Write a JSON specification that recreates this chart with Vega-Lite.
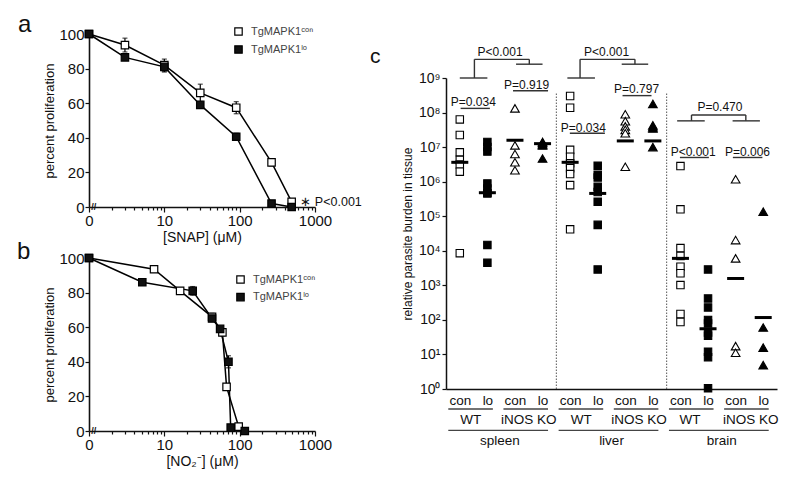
{
  "$schema": "https://vega.github.io/schema/vega-lite/v6.json",
  "padding": {"left": 17, "top": 13, "right": 5, "bottom": 5},
  "background": "white",
  "config": {
    "view": {"stroke": null},
    "font": "Liberation Sans, Arial, Helvetica, sans-serif",
    "axis": {"grid": false, "domainColor": "#111", "domainWidth": 1.6, "tickColor": "#111", "tickWidth": 1.2, "labelColor": "#111", "titleColor": "#111", "titleFontWeight": "normal", "labelFont": "Liberation Sans, Arial, sans-serif", "titleFont": "Liberation Sans, Arial, sans-serif"},
    "title": {"fontWeight": "normal", "color": "#111", "font": "Liberation Sans, Arial, sans-serif"},
    "text": {"color": "#111"}
  },
  "datasets": {
    "snap": [
      {"c": 1, "p": 100, "e": 0, "s": "TgMAPK1ᶜᵒⁿ"},
      {"c": 3, "p": 93.6, "e": 4, "s": "TgMAPK1ᶜᵒⁿ"},
      {"c": 10, "p": 82, "e": 3.5, "s": "TgMAPK1ᶜᵒⁿ"},
      {"c": 30, "p": 66, "e": 5, "s": "TgMAPK1ᶜᵒⁿ"},
      {"c": 90, "p": 57.4, "e": 3.5, "s": "TgMAPK1ᶜᵒⁿ"},
      {"c": 265, "p": 25.8, "e": 2, "s": "TgMAPK1ᶜᵒⁿ"},
      {"c": 490, "p": 3, "e": 0, "s": "TgMAPK1ᶜᵒⁿ"},
      {"c": 1, "p": 100, "e": 0, "s": "TgMAPK1ˡᵒ"},
      {"c": 3, "p": 86.5, "e": 0, "s": "TgMAPK1ˡᵒ"},
      {"c": 10, "p": 81, "e": 3, "s": "TgMAPK1ˡᵒ"},
      {"c": 30, "p": 59, "e": 1.5, "s": "TgMAPK1ˡᵒ"},
      {"c": 90, "p": 40.6, "e": 2, "s": "TgMAPK1ˡᵒ"},
      {"c": 265, "p": 2, "e": 0, "s": "TgMAPK1ˡᵒ"},
      {"c": 490, "p": 0, "e": 0, "s": "TgMAPK1ˡᵒ"}
    ],
    "no2": [
      {"c": 1, "p": 100, "e": 0, "s": "TgMAPK1ᶜᵒⁿ"},
      {"c": 7.3, "p": 93.5, "e": 0, "s": "TgMAPK1ᶜᵒⁿ"},
      {"c": 16.2, "p": 81, "e": 0, "s": "TgMAPK1ᶜᵒⁿ"},
      {"c": 43, "p": 66, "e": 2, "s": "TgMAPK1ᶜᵒⁿ"},
      {"c": 59, "p": 57, "e": 2, "s": "TgMAPK1ᶜᵒⁿ"},
      {"c": 67, "p": 25.5, "e": 0, "s": "TgMAPK1ᶜᵒⁿ"},
      {"c": 97, "p": 2.5, "e": 0, "s": "TgMAPK1ᶜᵒⁿ"},
      {"c": 1, "p": 100, "e": 0, "s": "TgMAPK1ˡᵒ"},
      {"c": 5.1, "p": 86, "e": 0, "s": "TgMAPK1ˡᵒ"},
      {"c": 23.8, "p": 81, "e": 2.5, "s": "TgMAPK1ˡᵒ"},
      {"c": 43, "p": 65, "e": 0, "s": "TgMAPK1ˡᵒ"},
      {"c": 55, "p": 59, "e": 0, "s": "TgMAPK1ˡᵒ"},
      {"c": 71, "p": 40, "e": 3.5, "s": "TgMAPK1ˡᵒ"},
      {"c": 76, "p": 2, "e": 0, "s": "TgMAPK1ˡᵒ"},
      {"c": 117, "p": 0, "e": 0, "s": "TgMAPK1ˡᵒ"}
    ],
    "brk": [
      {"c": 1.16, "p": 0, "t": "//"}
    ],
    "burden": [
      {"g": 1, "h": "WT", "s": "con", "v": 6.31e7}, {"g": 1, "h": "WT", "s": "con", "v": 2.24e7}, {"g": 1, "h": "WT", "s": "con", "v": 7.08e6}, {"g": 1, "h": "WT", "s": "con", "v": 4.27e6}, {"g": 1, "h": "WT", "s": "con", "v": 3.16e6}, {"g": 1, "h": "WT", "s": "con", "v": 1.95e6}, {"g": 1, "h": "WT", "s": "con", "v": 8.51e3},
      {"g": 2, "h": "WT", "s": "lo", "v": 1.41e7}, {"g": 2, "h": "WT", "s": "lo", "v": 1.0e7}, {"g": 2, "h": "WT", "s": "lo", "v": 7.41e6}, {"g": 2, "h": "WT", "s": "lo", "v": 8.91e5}, {"g": 2, "h": "WT", "s": "lo", "v": 6.31e5}, {"g": 2, "h": "WT", "s": "lo", "v": 4.79e5}, {"g": 2, "h": "WT", "s": "lo", "v": 4.57e5}, {"g": 2, "h": "WT", "s": "lo", "v": 1.48e4}, {"g": 2, "h": "WT", "s": "lo", "v": 4.47e3},
      {"g": 3, "h": "iNOS KO", "s": "con", "v": 1.32e8}, {"g": 3, "h": "iNOS KO", "s": "con", "v": 1.12e7}, {"g": 3, "h": "iNOS KO", "s": "con", "v": 6.31e6}, {"g": 3, "h": "iNOS KO", "s": "con", "v": 3.63e6}, {"g": 3, "h": "iNOS KO", "s": "con", "v": 2.14e6},
      {"g": 4, "h": "iNOS KO", "s": "lo", "v": 1.41e7}, {"g": 4, "h": "iNOS KO", "s": "lo", "v": 1.32e7}, {"g": 4, "h": "iNOS KO", "s": "lo", "v": 1.2e7}, {"g": 4, "h": "iNOS KO", "s": "lo", "v": 1.12e7}, {"g": 4, "h": "iNOS KO", "s": "lo", "v": 4.68e6},
      {"g": 5, "h": "WT", "s": "con", "v": 3.02e8}, {"g": 5, "h": "WT", "s": "con", "v": 1.38e8}, {"g": 5, "h": "WT", "s": "con", "v": 8.32e6}, {"g": 5, "h": "WT", "s": "con", "v": 5.25e6}, {"g": 5, "h": "WT", "s": "con", "v": 3.39e6}, {"g": 5, "h": "WT", "s": "con", "v": 2.45e6}, {"g": 5, "h": "WT", "s": "con", "v": 1.66e6}, {"g": 5, "h": "WT", "s": "con", "v": 7.94e5}, {"g": 5, "h": "WT", "s": "con", "v": 4.17e4},
      {"g": 6, "h": "WT", "s": "lo", "v": 2.88e6}, {"g": 6, "h": "WT", "s": "lo", "v": 1.58e6}, {"g": 6, "h": "WT", "s": "lo", "v": 1.32e6}, {"g": 6, "h": "WT", "s": "lo", "v": 7.08e5}, {"g": 6, "h": "WT", "s": "lo", "v": 5.01e5}, {"g": 6, "h": "WT", "s": "lo", "v": 2.63e5}, {"g": 6, "h": "WT", "s": "lo", "v": 5.62e4}, {"g": 6, "h": "WT", "s": "lo", "v": 2.88e3},
      {"g": 7, "h": "iNOS KO", "s": "con", "v": 8.91e7}, {"g": 7, "h": "iNOS KO", "s": "con", "v": 5.62e7}, {"g": 7, "h": "iNOS KO", "s": "con", "v": 3.98e7}, {"g": 7, "h": "iNOS KO", "s": "con", "v": 3.16e7}, {"g": 7, "h": "iNOS KO", "s": "con", "v": 2.51e7}, {"g": 7, "h": "iNOS KO", "s": "con", "v": 2.69e6},
      {"g": 8, "h": "iNOS KO", "s": "lo", "v": 1.78e8}, {"g": 8, "h": "iNOS KO", "s": "lo", "v": 4.27e7}, {"g": 8, "h": "iNOS KO", "s": "lo", "v": 3.8e7}, {"g": 8, "h": "iNOS KO", "s": "lo", "v": 3.47e7}, {"g": 8, "h": "iNOS KO", "s": "lo", "v": 1.0e7},
      {"g": 9, "h": "WT", "s": "con", "v": 2.82e6}, {"g": 9, "h": "WT", "s": "con", "v": 1.58e5}, {"g": 9, "h": "WT", "s": "con", "v": 1.2e4}, {"g": 9, "h": "WT", "s": "con", "v": 7.08e3}, {"g": 9, "h": "WT", "s": "con", "v": 3.47e3}, {"g": 9, "h": "WT", "s": "con", "v": 2.24e3}, {"g": 9, "h": "WT", "s": "con", "v": 1.02e3}, {"g": 9, "h": "WT", "s": "con", "v": 148}, {"g": 9, "h": "WT", "s": "con", "v": 87},
      {"g": 10, "h": "WT", "s": "lo", "v": 2884}, {"g": 10, "h": "WT", "s": "lo", "v": 417}, {"g": 10, "h": "WT", "s": "lo", "v": 229}, {"g": 10, "h": "WT", "s": "lo", "v": 100}, {"g": 10, "h": "WT", "s": "lo", "v": 79}, {"g": 10, "h": "WT", "s": "lo", "v": 43}, {"g": 10, "h": "WT", "s": "lo", "v": 35}, {"g": 10, "h": "WT", "s": "lo", "v": 12}, {"g": 10, "h": "WT", "s": "lo", "v": 8.3}, {"g": 10, "h": "WT", "s": "lo", "v": 1.05},
      {"g": 11, "h": "iNOS KO", "s": "con", "v": 1.17e6}, {"g": 11, "h": "iNOS KO", "s": "con", "v": 2.04e4}, {"g": 11, "h": "iNOS KO", "s": "con", "v": 6.03e3}, {"g": 11, "h": "iNOS KO", "s": "con", "v": 17.4}, {"g": 11, "h": "iNOS KO", "s": "con", "v": 11.2},
      {"g": 12, "h": "iNOS KO", "s": "lo", "v": 1.35e5}, {"g": 12, "h": "iNOS KO", "s": "lo", "v": 60}, {"g": 12, "h": "iNOS KO", "s": "lo", "v": 15.8}, {"g": 12, "h": "iNOS KO", "s": "lo", "v": 4.9}
    ],
    "med": [
      {"g": 1, "v": 3.63e6}, {"g": 2, "v": 4.79e5}, {"g": 3, "v": 1.58e7}, {"g": 4, "v": 1.26e7},
      {"g": 5, "v": 3.63e6}, {"g": 6, "v": 4.57e5}, {"g": 7, "v": 1.51e7}, {"g": 8, "v": 1.51e7},
      {"g": 9, "v": 6.03e3}, {"g": 10, "v": 55}, {"g": 11, "v": 1.58e3}, {"g": 12, "v": 117}
    ],
    "sep": [
      {"g": 4.5, "v": 1, "v2": 3.63e8}, {"g": 8.5, "v": 1, "v2": 3.63e8}
    ],
    "seg": [
      {"g": 1, "g2": 2, "v": 1e9, "v2": 1e9}, {"g": 1.53, "g2": 1.53, "v": 1e9, "v2": 3.47e9}, {"g": 1.53, "g2": 3.52, "v": 3.47e9, "v2": 3.47e9}, {"g": 3.52, "g2": 3.52, "v": 3.47e9, "v2": 2.51e9}, {"g": 3.04, "g2": 4, "v": 2.51e9, "v2": 2.51e9},
      {"g": 4.9, "g2": 5.9, "v": 1e9, "v2": 1e9}, {"g": 5.36, "g2": 5.36, "v": 1e9, "v2": 3.47e9}, {"g": 5.36, "g2": 7.35, "v": 3.47e9, "v2": 3.47e9}, {"g": 7.35, "g2": 7.35, "v": 3.47e9, "v2": 2.51e9}, {"g": 6.87, "g2": 7.83, "v": 2.51e9, "v2": 2.51e9},
      {"g": 8.88, "g2": 9.88, "v": 5.75e7, "v2": 5.75e7}, {"g": 9.4, "g2": 9.4, "v": 5.75e7, "v2": 8.51e7}, {"g": 9.4, "g2": 11.37, "v": 8.51e7, "v2": 8.51e7}, {"g": 11.37, "g2": 11.37, "v": 8.51e7, "v2": 5.75e7}, {"g": 10.89, "g2": 11.88, "v": 5.75e7, "v2": 5.75e7},
      {"g": 1.03, "g2": 2.09, "v": 1.32e8, "v2": 1.32e8}, {"g": 2.93, "g2": 4.2, "v": 4.27e8, "v2": 4.27e8}, {"g": 4.99, "g2": 6.26, "v": 2.51e7, "v2": 2.51e7}, {"g": 6.9, "g2": 7.95, "v": 3.09e8, "v2": 3.09e8}, {"g": 8.98, "g2": 10.03, "v": 5.01e6, "v2": 5.01e6}, {"g": 10.9, "g2": 11.97, "v": 5.01e6, "v2": 5.01e6}
    ],
    "ptxt": [
      {"g": 2.46, "v": 5.75e9, "t": "P<0.001"}, {"g": 6.32, "v": 5.75e9, "t": "P<0.001"}, {"g": 10.43, "v": 1.41e8, "t": "P=0.470"},
      {"g": 1.49, "v": 2.04e8, "t": "P=0.034"}, {"g": 3.42, "v": 6.31e8, "t": "P=0.919"}, {"g": 5.48, "v": 3.63e7, "t": "P=0.034"},
      {"g": 7.41, "v": 4.68e8, "t": "P=0.797"}, {"g": 9.46, "v": 7.41e6, "t": "P<0.001"}, {"g": 11.43, "v": 7.41e6, "t": "P=0.006"}
    ],
    "cl": [
      {"lv": "u1", "g": 1, "g2": 2}, {"lv": "u1", "g": 3, "g2": 4}, {"lv": "u1", "g": 5, "g2": 6}, {"lv": "u1", "g": 7, "g2": 8}, {"lv": "u1", "g": 9, "g2": 10}, {"lv": "u1", "g": 11, "g2": 12},
      {"lv": "u2", "g": 1, "g2": 4}, {"lv": "u2", "g": 5, "g2": 8}, {"lv": "u2", "g": 9, "g2": 12},
      {"lv": "t1", "g": 1.4, "t": "WT"}, {"lv": "t1", "g": 3.5, "t": "iNOS KO"}, {"lv": "t1", "g": 5.4, "t": "WT"}, {"lv": "t1", "g": 7.5, "t": "iNOS KO"}, {"lv": "t1", "g": 9.35, "t": "WT"}, {"lv": "t1", "g": 11.55, "t": "iNOS KO"},
      {"lv": "t2", "g": 2.45, "t": "spleen"}, {"lv": "t2", "g": 6.5, "t": "liver"}, {"lv": "t2", "g": 10.5, "t": "brain"}
    ]
  },
  "resolve": {"scale": {"x": "independent", "y": "independent", "fill": "independent"}, "legend": {"fill": "independent"}},
  "bounds": "flush",
  "spacing": 357,
  "hconcat": [
    {
      "bounds": "flush",
      "spacing": 51,
      "resolve": {"scale": {"x": "independent", "y": "independent", "fill": "independent"}, "legend": {"fill": "independent"}},
      "vconcat": [
        {
          "width": 226, "height": 173,
          "title": {"text": "a", "anchor": "start", "frame": "group", "fontSize": 24, "dx": -71, "dy": 34, "baseline": "alphabetic"},
          "data": {"name": "snap"},
          "encoding": {
            "x": {"field": "c", "type": "quantitative", "scale": {"type": "log", "domain": [1, 1000], "nice": false}, "title": "[SNAP] (μM)",
              "axis": {"values": [1,2,3,4,5,6,7,8,9,10,20,30,40,50,60,70,80,90,100,200,300,400,500,600,700,800,900,1000],
                "labelExpr": "datum.value == 1 ? '0' : (datum.value == 10 ? '10' : (datum.value == 100 ? '100' : (datum.value == 1000 ? '1000' : '')))",
                "tickSize": {"condition": {"test": "datum.value == 1 || datum.value == 10 || datum.value == 100 || datum.value == 1000", "value": 5}, "value": 3},
                "labelOverlap": false, "labelFlush": false, "labelBound": false, "labelFontSize": 15, "labelPadding": 1, "titleFontSize": 14, "titlePadding": 2}},
            "y": {"field": "p", "type": "quantitative", "scale": {"domain": [0, 100], "nice": false}, "title": "percent  proliferation",
              "axis": {"values": [0, 20, 40, 60, 80, 100], "tickSize": 4, "labelFontSize": 15, "labelPadding": 1, "titleFontSize": 13, "titlePadding": 2}}
          },
          "layer": [
            {"mark": {"type": "line", "color": "black", "strokeWidth": 1.5}, "encoding": {"detail": {"field": "s", "type": "nominal"}}},
            {"transform": [{"filter": "datum.e > 0"}], "mark": {"type": "errorbar", "ticks": true, "color": "black", "thickness": 1.2}, "encoding": {"yError": {"field": "e"}}},
            {"mark": {"type": "point", "shape": "square", "filled": true, "size": 55, "stroke": "black", "strokeWidth": 1.2, "opacity": 1},
              "encoding": {"fill": {"field": "s", "type": "nominal", "scale": {"domain": ["TgMAPK1ᶜᵒⁿ", "TgMAPK1ˡᵒ"], "range": ["white", "#111"]},
                "legend": {"title": null, "orient": "none", "legendX": 144, "legendY": -8, "symbolType": "square", "symbolSize": 55, "symbolStrokeColor": "black", "symbolStrokeWidth": 1.2, "labelFontSize": 11, "labelColor": "#444", "rowPadding": 5, "padding": 0, "labelOffset": 7}}}},
            {"data": {"values": [{"c": 640, "p": 3, "t": "∗ P<0.001"}]}, "mark": {"type": "text", "align": "left", "baseline": "middle", "fontSize": 12.5}, "encoding": {"text": {"field": "t"}}},
            {"data": {"name": "brk"}, "mark": {"type": "text", "align": "center", "baseline": "middle", "fontSize": 9, "fontWeight": "bold"}, "encoding": {"text": {"field": "t"}}}
          ]
        },
        {
          "width": 226, "height": 173,
          "title": {"text": "b", "anchor": "start", "frame": "group", "fontSize": 24, "dx": -72, "dy": 36, "baseline": "alphabetic"},
          "data": {"name": "no2"},
          "encoding": {
            "x": {"field": "c", "type": "quantitative", "scale": {"type": "log", "domain": [1, 1000], "nice": false}, "title": "[NO₂⁻] (μM)",
              "axis": {"values": [1,2,3,4,5,6,7,8,9,10,20,30,40,50,60,70,80,90,100,200,300,400,500,600,700,800,900,1000],
                "labelExpr": "datum.value == 1 ? '0' : (datum.value == 10 ? '10' : (datum.value == 100 ? '100' : (datum.value == 1000 ? '1000' : '')))",
                "tickSize": {"condition": {"test": "datum.value == 1 || datum.value == 10 || datum.value == 100 || datum.value == 1000", "value": 5}, "value": 3},
                "labelOverlap": false, "labelFlush": false, "labelBound": false, "labelFontSize": 15, "labelPadding": 1, "titleFontSize": 14, "titlePadding": 2}},
            "y": {"field": "p", "type": "quantitative", "scale": {"domain": [0, 100], "nice": false}, "title": "percent  proliferation",
              "axis": {"values": [0, 20, 40, 60, 80, 100], "tickSize": 4, "labelFontSize": 15, "labelPadding": 1, "titleFontSize": 13, "titlePadding": 2}}
          },
          "layer": [
            {"mark": {"type": "line", "color": "black", "strokeWidth": 1.5}, "encoding": {"detail": {"field": "s", "type": "nominal"}}},
            {"transform": [{"filter": "datum.e > 0"}], "mark": {"type": "errorbar", "ticks": true, "color": "black", "thickness": 1.2}, "encoding": {"yError": {"field": "e"}}},
            {"mark": {"type": "point", "shape": "square", "filled": true, "size": 55, "stroke": "black", "strokeWidth": 1.2, "opacity": 1},
              "encoding": {"fill": {"field": "s", "type": "nominal", "scale": {"domain": ["TgMAPK1ᶜᵒⁿ", "TgMAPK1ˡᵒ"], "range": ["white", "#111"]},
                "legend": {"title": null, "orient": "none", "legendX": 146, "legendY": 16, "symbolType": "square", "symbolSize": 55, "symbolStrokeColor": "black", "symbolStrokeWidth": 1.2, "labelFontSize": 11, "labelColor": "#444", "rowPadding": 4.6, "padding": 0, "labelOffset": 7}}}},
            {"data": {"name": "brk"}, "mark": {"type": "text", "align": "center", "baseline": "middle", "fontSize": 9, "fontWeight": "bold"}, "encoding": {"text": {"field": "t"}}}
          ]
        }
      ]
    },
    {
      "bounds": "flush",
      "spacing": 0,
      "vconcat": [
        {"width": 331, "height": 44, "data": {"values": [{"t": ""}]}, "mark": "text", "encoding": {"text": {"field": "t"}}},
        {
          "bounds": "flush",
          "spacing": 20,
          "vconcat": [
            {
              "width": 331, "height": 311,
              "title": {"text": "c", "anchor": "start", "frame": "group", "fontSize": 21, "dx": -76, "dy": 42, "baseline": "alphabetic"},
              "encoding": {
                "x": {"field": "g", "type": "quantitative", "scale": {"domain": [0.5, 12.5], "nice": false, "zero": false}, "title": null,
                  "axis": {"values": [1,2,3,4,5,6,7,8,9,10,11,12], "labelExpr": "datum.value % 2 == 1 ? 'con' : 'lo'", "ticks": false, "tickSize": 0, "labelFontSize": 13.5, "labelPadding": 4, "labelOverlap": false, "labelFlush": false, "domainWidth": 1.5}},
                "y": {"field": "v", "type": "quantitative", "scale": {"type": "log", "domain": [1, 1e9], "nice": false}, "title": "relative parasite burden in tissue",
                  "axis": {"values": [1, 10, 100, 1000, 10000, 100000, 1000000, 10000000, 100000000, 1000000000], "labelExpr": "'10' + ['⁰','¹','²','³','⁴','⁵','⁶','⁷','⁸','⁹'][round(log(datum.value) / LN10)]", "tickSize": 4, "labelFontSize": 14, "labelPadding": 2, "titleFontSize": 12, "titlePadding": 4, "domainWidth": 1.5, "labelOverlap": false, "labelFlush": false}}
              },
              "layer": [
                {"data": {"name": "sep"}, "mark": {"type": "rule", "strokeDash": [1.5, 1.5], "color": "#555", "strokeWidth": 1}, "encoding": {"y2": {"field": "v2"}}},
                {"data": {"name": "burden"}, "mark": {"type": "point", "filled": true, "stroke": "black", "strokeWidth": 1.1, "opacity": 1},
                  "encoding": {
                    "shape": {"field": "h", "type": "nominal", "scale": {"domain": ["WT", "iNOS KO"], "range": ["square", "triangle-up"]}, "legend": null},
                    "size": {"field": "h", "type": "nominal", "scale": {"domain": ["WT", "iNOS KO"], "range": [55, 75]}, "legend": null},
                    "fill": {"field": "s", "type": "nominal", "scale": {"domain": ["con", "lo"], "range": ["white", "black"]}, "legend": null}
                  }},
                {"data": {"name": "med"}, "mark": {"type": "tick", "orient": "horizontal", "thickness": 3, "size": 17, "color": "black", "opacity": 1}},
                {"data": {"name": "seg"}, "mark": {"type": "rule", "color": "#333", "strokeWidth": 1.4}, "encoding": {"x2": {"field": "g2"}, "y2": {"field": "v2"}}},
                {"data": {"name": "ptxt"}, "mark": {"type": "text", "fontSize": 12, "baseline": "middle"}, "encoding": {"text": {"field": "t"}}}
              ]
            },
            {
              "width": 331, "height": 32,
              "data": {"name": "cl"},
              "encoding": {
                "x": {"field": "g", "type": "quantitative", "scale": {"domain": [0.5, 12.5], "nice": false, "zero": false}, "axis": null},
                "y": {"field": "lv", "type": "ordinal", "scale": {"type": "point", "domain": ["u1", "t1", "u2", "t2"], "padding": 0}, "axis": null}
              },
              "layer": [
                {"transform": [{"filter": "datum.g2 != null"}], "mark": {"type": "rule", "color": "#444", "strokeWidth": 1.4, "xOffset": -11.5, "x2Offset": 5.5}, "encoding": {"x2": {"field": "g2"}}},
                {"transform": [{"filter": "datum.t != null"}], "mark": {"type": "text", "fontSize": 13.5, "baseline": "middle"}, "encoding": {"text": {"field": "t"}}}
              ]
            }
          ]
        }
      ]
    }
  ]
}
